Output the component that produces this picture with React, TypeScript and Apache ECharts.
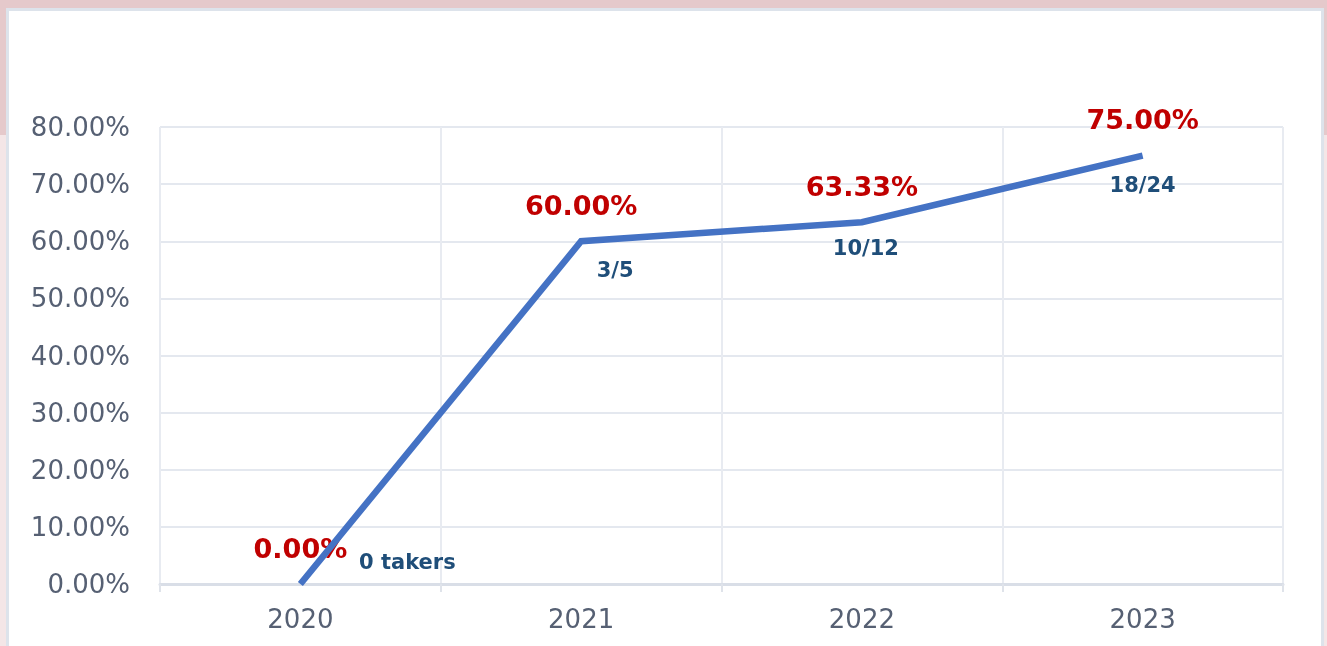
import React, { useEffect, useRef } from "react";
import * as echarts from "echarts";

const years = ["2020", "2021", "2022", "2023"];
const passRates = [0, 60, 63.33, 75];
const passLabels = ["0.00%", "60.00%", "63.33%", "75.00%"];
const fractionLabels = ["0 takers", "3/5", "10/12", "18/24"];
const yTicksMax = 80;
const yTickStep = 10;

// label offsets (styling, not data)
const fractionOffsets: [number, number][] = [
  [107, -22],
  [34, 29],
  [4, 26],
  [0, 29],
];

export default function App() {
  const ref = useRef<HTMLDivElement>(null);
  useEffect(() => {
    if (!ref.current) return;
    const chart = echarts.init(ref.current, undefined, { renderer: "svg" });
    const axisColor = "#566073";
    chart.setOption({
      animation: false,
      graphic: [
        { type: "rect", z: -10, silent: true, shape: { x: 0, y: 0, width: 1327, height: 646 }, style: { fill: "#f4e6e7" } },
        { type: "rect", z: -9, silent: true, shape: { x: 0, y: 0, width: 1327, height: 135 }, style: { fill: "#e5c9cb" } },
        {
          type: "rect",
          z: -8,
          silent: true,
          shape: { x: 7.5, y: 9.5, width: 1315, height: 646 },
          style: { fill: "#ffffff", stroke: "#dde3eb", lineWidth: 3 },
        },
      ],
      grid: { left: 160, right: 44, top: 127, bottom: 62 },
      xAxis: {
        type: "category",
        data: years,
        boundaryGap: true,
        axisLine: { lineStyle: { color: "#d9dee7", width: 3 } },
        axisTick: { show: true, length: 8, lineStyle: { color: "#dfe3ea", width: 2 } },
        splitLine: { show: true, lineStyle: { color: "#e8ebf1", width: 2 } },
        axisLabel: { color: axisColor, fontSize: 26, fontFamily: "DejaVu Sans", margin: 22 },
      },
      yAxis: {
        type: "value",
        min: 0,
        max: yTicksMax,
        interval: yTickStep,
        axisLine: { show: false },
        axisTick: { show: false },
        splitLine: { show: true, lineStyle: { color: "#e4e8ef", width: 2 } },
        axisLabel: {
          color: axisColor,
          fontSize: 26,
          fontFamily: "DejaVu Sans",
          margin: 30,
          formatter: (v: number) => v.toFixed(2) + "%",
        },
      },
      series: [
        {
          type: "scatter",
          data: passRates,
          symbolSize: 1,
          itemStyle: { color: "rgba(0,0,0,0)", opacity: 1 },
          z: 1,
          label: {
            show: true,
            position: "top",
            distance: 22,
            formatter: (p: any) => passLabels[p.dataIndex],
            color: "#c00000",
            opacity: 1,
            textBorderWidth: 0,
            fontSize: 27,
            fontWeight: "bold",
            fontFamily: "DejaVu Sans",
          },
        },
        {
          type: "line",
          data: passRates,
          showSymbol: false,
          symbol: "none",
          z: 3,
          lineStyle: { color: "#4472c4", width: 6.5, cap: "butt", join: "miter" },
          itemStyle: { color: "#4472c4" },
        },
        {
          type: "scatter",
          data: passRates.map((v, i) => ({
            value: v,
            label: { offset: fractionOffsets[i] },
          })),
          symbolSize: 1,
          itemStyle: { color: "rgba(0,0,0,0)", opacity: 1 },
          z: 4,
          label: {
            show: true,
            position: "inside",
            formatter: (p: any) => fractionLabels[p.dataIndex],
            color: "#1f4e79",
            opacity: 1,
            textBorderWidth: 0,
            fontSize: 21,
            fontWeight: "bold",
            fontFamily: "DejaVu Sans",
          },
        },
      ],
    });
    return () => chart.dispose();
  }, []);
  return (
    <div
      ref={ref}
      style={{ position: "fixed", left: 0, top: 0, width: 1327, height: 646 }}
    />
  );
}
